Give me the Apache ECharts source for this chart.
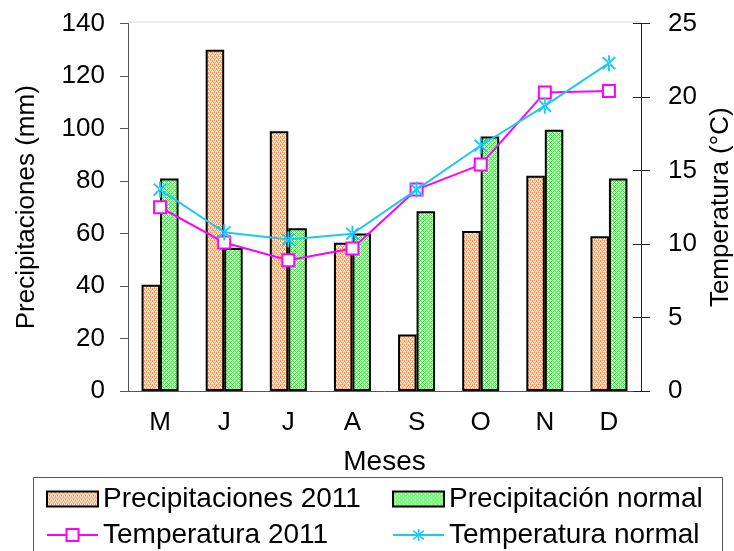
<!DOCTYPE html>
<html lang="es">
<head>
  <meta charset="UTF-8">
  <title>Precipitaciones y temperatura</title>
  <style>
    html, body { margin: 0; padding: 0; background: #fff; }
    #chart { width: 734px; height: 551px; }
  </style>
  <script src="https://cdn.jsdelivr.net/npm/echarts@6/dist/echarts.min.js"></script>
</head>
<body>
  <div id="chart"></div>
  <script>
    // ---------------- data ----------------
    const months = ['M', 'J', 'J', 'A', 'S', 'O', 'N', 'D'];
    const prec2011 = [40.5, 130, 99, 56.5, 21.5, 61, 82, 59];
    const precNormal = [81, 54.5, 62, 60, 68.5, 97, 99.5, 81];
    const temp2011 = [12.5, 10.1, 8.9, 9.7, 13.7, 15.4, 20.3, 20.4];
    const tempNormal = [13.7, 10.8, 10.3, 10.7, 13.7, 16.7, 19.4, 22.3];
    const precTicks = [0, 140, 20];
    const tempTicks = [0, 25, 5];

    const font = "'Liberation Sans', Arial, sans-serif";

    // small hatch patterns like the spreadsheet fills
    function makePattern(bg, fg, draw) {
      const c = document.createElement('canvas');
      c.width = 4; c.height = 4;
      const ctx = c.getContext('2d');
      ctx.fillStyle = bg;
      ctx.fillRect(0, 0, 4, 4);
      ctx.fillStyle = fg;
      draw(ctx);
      return { image: c, repeat: 'repeat' };
    }
    const orangeFill = makePattern('#ffe4d0', '#f79050', ctx => {
      ctx.fillRect(0, 0, 1, 1); ctx.fillRect(2, 0, 1, 1);
      ctx.fillRect(1, 2, 1, 1); ctx.fillRect(3, 2, 1, 1);
      ctx.fillRect(0, 1, 1, 1); ctx.fillRect(2, 3, 1, 1);
    });
    const greenFill = makePattern('#c4ffc4', '#3ee43e', ctx => {
      ctx.fillRect(0, 0, 1, 1); ctx.fillRect(2, 2, 1, 1);
      ctx.fillRect(1, 1, 1, 1); ctx.fillRect(3, 3, 1, 1);
      ctx.fillRect(3, 1, 1, 1); ctx.fillRect(1, 3, 1, 1);
    });

    // asterisk marker: vertical bar + X
    const asterisk = 'path://M-1,-9L1,-9L1,9L-1,9Z' +
      'M-7.4,-5.9L5.9,7.4L7.4,5.9L-5.9,-7.4Z' +
      'M-7.4,5.9L5.9,-7.4L7.4,-5.9L-5.9,7.4Z';

    const legendText = { fontFamily: font, fontSize: 28, lineHeight: 30, color: '#000' };

    const chart = echarts.init(document.getElementById('chart'));
    chart.setOption({
      animation: false,
      textStyle: { fontFamily: font, color: '#000' },
      grid: { left: 128, right: 93, top: 23.5, bottom: 160, outerBoundsMode: 'none', containLabel: false },
      graphic: [
        {
          type: 'line',
          shape: { x1: 128, y1: 22, x2: 641, y2: 22 },
          style: { stroke: '#d8d8d8', lineWidth: 1 },
          silent: true
        },
        {
          type: 'rect',
          shape: { x: 33.5, y: 477.5, width: 689, height: 90 },
          style: { fill: 'none', stroke: '#555', lineWidth: 1 },
          silent: true
        }
      ],
      legend: [
        {
          left: 46, top: 484, orient: 'vertical', padding: 0,
          itemWidth: 51, itemHeight: 15, itemGap: 6, itemTextGap: 5,
          textStyle: legendText,
          data: [{ name: 'Precipitaciones 2011', icon: 'rect' }, 'Temperatura 2011']
        },
        {
          left: 392, top: 484, orient: 'vertical', padding: 0,
          itemWidth: 51, itemHeight: 15, itemGap: 6, itemTextGap: 4,
          textStyle: legendText,
          data: [{ name: 'Precipitación normal', icon: 'rect' }, 'Temperatura normal']
        }
      ],
      xAxis: {
        type: 'category',
        data: months,
        name: 'Meses',
        nameLocation: 'middle',
        nameGap: 57,
        nameTextStyle: { fontSize: 28, fontFamily: font, color: '#000' },
        axisLine: { lineStyle: { color: '#555', width: 1 } },
        axisTick: { length: 7, lineStyle: { color: '#555' } },
        axisLabel: { fontSize: 26, margin: 19, color: '#000', fontFamily: font }
      },
      yAxis: [
        {
          type: 'value',
          min: precTicks[0], max: precTicks[1], interval: precTicks[2],
          name: 'Precipitaciones (mm)',
          nameLocation: 'middle',
          nameGap: 88,
          nameTextStyle: { fontSize: 26, fontFamily: font, color: '#000' },
          axisLine: { show: true, lineStyle: { color: '#555' } },
          axisTick: { show: true, length: 8, lineStyle: { color: '#555' } },
          axisLabel: { fontSize: 26, margin: 23, color: '#000', fontFamily: font },
          splitLine: { show: false }
        },
        {
          type: 'value',
          position: 'right',
          min: tempTicks[0], max: tempTicks[1], interval: tempTicks[2],
          name: 'Temperatura (°C)',
          nameLocation: 'middle',
          nameGap: 63,
          nameRotate: 90,
          nameTextStyle: { fontSize: 26, fontFamily: font, color: '#000' },
          axisLine: { show: true, lineStyle: { color: '#222' } },
          axisTick: { show: true, length: 9, lineStyle: { color: '#222' } },
          axisLabel: { fontSize: 26, margin: 27, color: '#000', fontFamily: font },
          splitLine: { show: false }
        },
        {
          type: 'value',
          position: 'right',
          min: tempTicks[0], max: tempTicks[1], interval: tempTicks[2],
          axisLine: { show: false },
          axisTick: { show: true, inside: true, length: 8, lineStyle: { color: '#222' } },
          axisLabel: { show: false },
          splitLine: { show: false }
        }
      ],
      series: [
        {
          name: 'Precipitaciones 2011',
          type: 'bar',
          data: prec2011,
          barWidth: 18.5,
          barGap: '0%',
          itemStyle: { color: orangeFill, borderColor: '#000', borderWidth: 2 }
        },
        {
          name: 'Precipitación normal',
          type: 'bar',
          data: precNormal,
          barWidth: 18.5,
          barGap: '0%',
          itemStyle: { color: greenFill, borderColor: '#000', borderWidth: 2 }
        },
        {
          name: 'Temperatura 2011',
          type: 'line',
          yAxisIndex: 1,
          data: temp2011,
          symbol: 'rect',
          symbolSize: 12,
          lineStyle: { color: '#ff00ff', width: 2 },
          itemStyle: { color: '#fff', borderColor: '#ff00ff', borderWidth: 2 },
          z: 3
        },
        {
          name: 'Temperatura normal',
          type: 'line',
          yAxisIndex: 1,
          data: tempNormal,
          symbol: asterisk,
          symbolSize: [14, 16],
          lineStyle: { color: '#1ec8f5', width: 2 },
          itemStyle: { color: '#1ec8f5', borderWidth: 0 },
          z: 4
        }
      ]
    });
  </script>
</body>
</html>
